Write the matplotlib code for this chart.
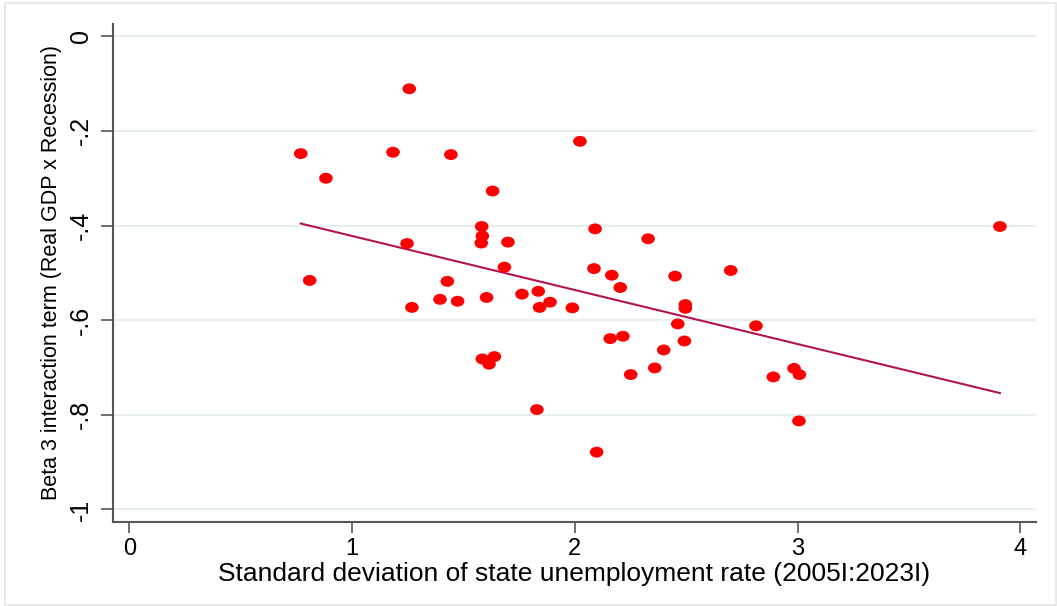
import matplotlib
matplotlib.use("Agg")
import matplotlib.pyplot as plt
import numpy as np
from matplotlib.path import Path
from matplotlib.patches import Rectangle

# std. dev. of state unemployment rate vs beta 3 interaction term
sd_unemp = [1.257, 0.770, 1.184, 1.444, 2.023, 0.883, 1.631, 1.582, 1.585, 1.580,
            1.247, 1.700, 2.091, 2.329, 0.810, 1.428, 1.684, 2.086, 2.166, 2.204,
            2.450, 1.269, 1.395, 1.474, 1.604, 1.763, 1.836, 1.889, 1.842, 1.989,
            1.585, 1.639, 1.615, 2.159, 2.216, 2.399, 2.359, 2.462, 1.830, 2.098,
            2.984, 3.008, 2.891, 3.006, 2.813, 2.700, 2.496, 2.496, 2.492, 2.251,
            3.908]
beta3 = [-0.111, -0.248, -0.245, -0.250, -0.222, -0.300, -0.327, -0.402, -0.422, -0.437,
         -0.438, -0.435, -0.407, -0.428, -0.516, -0.518, -0.488, -0.491, -0.505, -0.531,
         -0.507, -0.573, -0.556, -0.560, -0.552, -0.545, -0.539, -0.562, -0.573, -0.574,
         -0.682, -0.677, -0.693, -0.639, -0.634, -0.663, -0.701, -0.608, -0.789, -0.879,
         -0.702, -0.715, -0.720, -0.813, -0.612, -0.495, -0.567, -0.575, -0.644, -0.715,
         -0.402]

xticks = [0, 1, 2, 3, 4]
yticks = [-1, -0.8, -0.6, -0.4, -0.2, 0]
ytick_labels = ["-1", "-.8", "-.6", "-.4", "-.2", "0"]

plt.rcParams["font.family"] = ["Liberation Sans", "DejaVu Sans"]

x = np.array(sd_unemp)
y = np.array(beta3)

fig = plt.figure(figsize=(10.57, 6.06), dpi=100)
ax = fig.add_axes([112.7 / 1057, 1 - 521.7 / 606, (1036 - 112.7) / 1057, (521.7 - 24) / 606])

# slightly wide dots like the stretched stata export
circ = Path.unit_circle()
oval = Path(circ.vertices * np.array([1.25, 1.0]), circ.codes)

ax.scatter(x, y, s=9.8 ** 2, marker=oval, color="#ff0000", edgecolors="none", zorder=3)

slope, icpt = np.polyfit(x, y, 1)
xs = np.array([x.min(), x.max()])
ax.plot(xs, icpt + slope * xs, color="#b3144d", lw=1.5, zorder=2)

ax.set_xlim(-0.074, 4.07)
ax.set_ylim(-1.026, 0.026)
ax.set_xticks(xticks)
ax.set_yticks(yticks)
ax.set_yticklabels(ytick_labels, rotation=90, va="center")
ax.tick_params(axis="x", labelsize=17, length=8, width=1.2, color="#555555", pad=4)
ax.tick_params(axis="y", labelsize=18, length=9, width=1.2, color="#555555", pad=5)
ax.grid(axis="y", color="#e6eef1", lw=1.5)
ax.set_axisbelow(True)

for side in ["top", "right"]:
    ax.spines[side].set_visible(False)
for side in ["left", "bottom"]:
    ax.spines[side].set_color("#555555")
    ax.spines[side].set_linewidth(1.5)

ax.set_xlabel("Standard deviation of state unemployment rate (2005I:2023I)", fontsize=19, labelpad=1)
ax.set_ylabel("Beta 3 interaction term (Real GDP x Recession)", fontsize=15.5, labelpad=5)

# faint outer frame of the graph region
fig.patches.append(Rectangle((5 / 1057, 1 / 606), 1051 / 1057, 602 / 606, transform=fig.transFigure,
                             fill=False, edgecolor="#e4e4e4", lw=1.2))

plt.savefig("out.png", dpi=100)
